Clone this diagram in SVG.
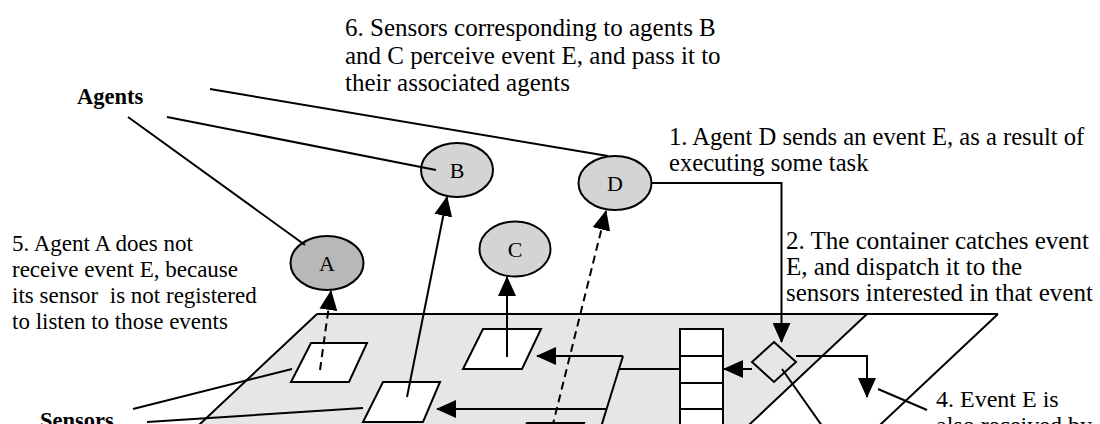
<svg xmlns="http://www.w3.org/2000/svg" width="1100" height="424" viewBox="0 0 1100 424">
<defs>
<marker id="ah" markerUnits="userSpaceOnUse" markerWidth="20" markerHeight="18" refX="19" refY="9" orient="auto" viewBox="0 0 20 18"><path d="M0,0 L20,9 L0,18 z" fill="#000" stroke="none"/></marker>
</defs>
<style>
.t{font-family:"Liberation Serif","Times New Roman",serif;font-size:24px;fill:#000}
.b{font-weight:bold;font-size:22.5px}
.s25{font-size:25px}
.s23{font-size:23px}
.ln{fill:none;stroke:#000;stroke-width:2}
.dash{stroke-dasharray:8 5}
.ag{fill:#d4d4d4;stroke:#000;stroke-width:2}
.agA{fill:#b8b8b8;stroke:#000;stroke-width:2}
.sn{fill:#fff;stroke:#000;stroke-width:2}
.lbl{font-family:"Liberation Serif","Times New Roman",serif;font-size:22px;fill:#000;text-anchor:middle}
</style>
<rect x="0" y="0" width="1100" height="424" fill="#fff"/>

<g id="container">
<polygon points="317,314 867,314 733,440 183,440" fill="#e6e6e6"/>
<path class="ln" d="M317,314 H998 M317,314 L183,440 M867,314 L733,440 M998,314 L864,440"/>
</g>

<g id="queue">
<rect x="680" y="329" width="43" height="120" fill="#fff" stroke="#000" stroke-width="2"/>
<path class="ln" d="M680,356 H723 M680,383 H723 M680,409 H723 M680,436 H723"/>
</g>

<g id="dispatcher">
<polygon points="774,342 796,362 774,382 752,362" fill="none" stroke="#000" stroke-width="2"/>
</g>

<g id="sensor-A"><polygon class="sn" points="311,343 367,343 349,382 291,382"/></g>
<g id="sensor-B"><polygon class="sn" points="383,382 440,382 423,422 363,422"/></g>
<g id="sensor-C"><polygon class="sn" points="483,329 541,329 522,369 463,369"/></g>
<g id="sensor-D"><polygon class="sn" points="527,423 584,423 564,462 507,462"/></g>

<g id="agent-A"><ellipse class="agA" cx="327" cy="263" rx="36.5" ry="27"/><text class="lbl" x="327" y="271">A</text></g>
<g id="agent-B"><ellipse class="ag" cx="457" cy="170" rx="36" ry="27"/><text class="lbl" x="457" y="178">B</text></g>
<g id="agent-C"><ellipse class="ag" cx="515" cy="249" rx="35.5" ry="27.5"/><text class="lbl" x="515" y="257">C</text></g>
<g id="agent-D"><ellipse class="ag" cx="615" cy="183" rx="36.5" ry="27"/><text class="lbl" x="615" y="191">D</text></g>

<g id="connectors">
<path class="ln" d="M652,183 H781.5 V342" marker-end="url(#ah)"/>
<path class="ln" d="M752,369 H724" marker-end="url(#ah)"/>
<path class="ln" d="M796,356 H867 V397" marker-end="url(#ah)"/>
<path class="ln" d="M680,369 H619"/>
<path class="ln" d="M623,356 L597,440"/>
<path class="ln" d="M623,356 H537" marker-end="url(#ah)"/>
<path class="ln" d="M607,409 H437" marker-end="url(#ah)"/>
<path class="ln dash" d="M320,370 L331,291" marker-end="url(#ah)"/>
<path class="ln" d="M407,397 L447,197" marker-end="url(#ah)"/>
<path class="ln" d="M507,357 V277" marker-end="url(#ah)"/>
<path class="ln dash" d="M549,440 L606,211" marker-end="url(#ah)"/>
<path class="ln" d="M782,369 L832,440"/>
<path class="ln" d="M128,117 L305,245 M167,117 L436,170 M210,89 L608,156"/>
<path class="ln" d="M133,409 L292,369 M147,422 L363,408"/>
<path class="ln" d="M878,389 L927,410"/>
</g>

<g id="labels">
<text class="t b" x="77" y="104">Agents</text>
<text class="t b" x="40" y="428">Sensors</text>
<text class="t s25" x="345" y="36">6. Sensors corresponding to agents B</text>
<text class="t s25" x="345" y="64">and C perceive event E, and pass it to</text>
<text class="t s25" x="345" y="91">their associated agents</text>
<text class="t" x="669" y="145" style="font-size:24.6px">1. Agent D sends an event E, as a result of</text>
<text class="t" x="669" y="171" style="font-size:24.6px">executing some task</text>
<text class="t s25" x="786" y="249">2. The container catches event</text>
<text class="t s25" x="786" y="275">E, and dispatch it to the</text>
<text class="t s25" x="786" y="301">sensors interested in that event</text>
<text class="t s23" x="12" y="251">5. Agent A does not</text>
<text class="t s23" x="12" y="277">receive event E, because</text>
<text class="t s23" x="12" y="303" xml:space="preserve">its sensor  is not registered</text>
<text class="t s23" x="12" y="329">to listen to those events</text>
<text class="t" x="936" y="407">4. Event E is</text>
<text class="t" x="936" y="433">also received by</text>
</g>
</svg>
